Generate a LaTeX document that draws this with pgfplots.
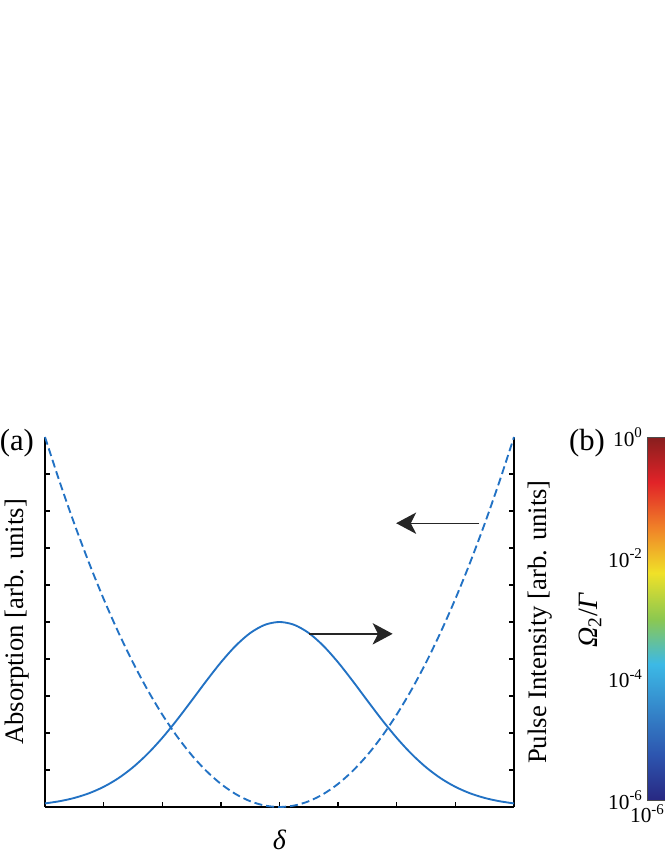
\documentclass[border=0pt]{standalone}
\usepackage{fontspec}
\setmainfont{Liberation Serif}
\usepackage{pgfplots}
\pgfplotsset{compat=1.18}
\usetikzlibrary{arrows.meta}
\definecolor{curve}{RGB}{34,114,196}
\pgfplotsset{colormap={mutedjet}{rgb255(0cm)=(40,40,130); rgb255(1cm)=(45,85,175); rgb255(3cm)=(60,185,230); rgb255(4cm)=(140,200,80); rgb255(5cm)=(240,225,40); rgb255(6cm)=(240,130,40); rgb255(7cm)=(225,35,40); rgb255(8cm)=(135,30,30)}}
\begin{document}
\begin{tikzpicture}
\useasboundingbox (0,0) rectangle (498pt,645pt);
% ---------------- panel (a) ----------------
\begin{axis}[
 at={(33.75pt,39.75pt)}, anchor=south west,
 scale only axis, width=351.75pt, height=277.5pt,
 xmin=-4, xmax=4, ymin=0, ymax=1,
 axis x line*=bottom, axis y line*=box,
 xtick={-3,-2,-1,0,1,2,3},
 ytick={0.1,0.2,0.3,0.4,0.5,0.6,0.7,0.8,0.9},
 xticklabels={}, yticklabels={},
 tick align=inside, major tick length=4pt,
 every tick/.style={black, line width=1.1pt},
 axis line style={black, line width=1.3pt},
 clip=false,
 xlabel={\textit{δ}},
 every axis x label/.style={at={(axis description cs:0.5,-0.089)}, anchor=center, font=\fontsize{21}{25}\selectfont},
]
\addplot[curve, line width=1.4pt, smooth] coordinates {
(-4,0.00971) (-3.75,0.01565) (-3.5,0.02447) (-3.25,0.03708) (-3,0.05449)
(-2.75,0.07763) (-2.5,0.10726) (-2.25,0.14370) (-2,0.18667) (-1.75,0.23517)
(-1.5,0.28726) (-1.25,0.34029) (-1,0.39083) (-0.75,0.43531) (-0.5,0.47014)
(-0.25,0.49236) (0,0.5) (0.25,0.49236) (0.5,0.47014) (0.75,0.43531)
(1,0.39083) (1.25,0.34029) (1.5,0.28726) (1.75,0.23517) (2,0.18667)
(2.25,0.14370) (2.5,0.10726) (2.75,0.07763) (3,0.05449) (3.25,0.03708)
(3.5,0.02447) (3.75,0.01565) (4,0.00971)};
\addplot[curve, line width=1.4pt, dash pattern=on 6pt off 3pt, smooth] coordinates {
(-4,1) (-3.75,0.8789) (-3.5,0.7656) (-3.25,0.6602) (-3,0.5625)
(-2.75,0.4727) (-2.5,0.3906) (-2.25,0.3164) (-2,0.25) (-1.75,0.1914)
(-1.5,0.1406) (-1.25,0.0977) (-1,0.0625) (-0.75,0.0352) (-0.5,0.0156)
(-0.25,0.0039) (0,0) (0.25,0.0039) (0.5,0.0156) (0.75,0.0352)
(1,0.0625) (1.25,0.0977) (1.5,0.1406) (1.75,0.1914) (2,0.25)
(2.25,0.3164) (2.5,0.3906) (2.75,0.4727) (3,0.5625) (3.25,0.6602)
(3.5,0.7656) (3.75,0.8789) (4,1)};
\draw[black!85, line width=1pt, -{Stealth[length=15pt,width=16pt,inset=4pt]}] (axis cs:0.51,0.468) -- (axis cs:1.93,0.468);
\draw[black!85, line width=1pt, -{Stealth[length=15pt,width=16pt,inset=4pt]}] (axis cs:3.41,0.767) -- (axis cs:1.99,0.767);
\node[font=\fontsize{20}{24}\selectfont, rotate=90] at (axis description cs:-0.0597,0.5) {Absorption [arb. units]};
\node[font=\fontsize{20}{24}\selectfont, rotate=90] at (axis description cs:1.055,0.5) {Pulse Intensity [arb. units]};
\node[font=\fontsize{23}{27}\selectfont] at (axis description cs:-0.06,0.984) {(a)};
\end{axis}
% ---------------- panel (b) ----------------
\begin{axis}[
 at={(485.5pt,45pt)}, anchor=south west,
 scale only axis, width=300pt, height=272.25pt,
 view={0}{90},
 xmode=log, ymode=log, xmin=1e-6, xmax=1, ymin=1e-6, ymax=1,
 colormap name=mutedjet,
 xtick={1e-6}, xticklabels={10\textsuperscript{-6}},
 ytick={1e-6,1e-4,1e-2,1},
 yticklabels={10\textsuperscript{-6},10\textsuperscript{-4},10\textsuperscript{-2},10\textsuperscript{0}},
 ztick=\empty,
 major tick length=0pt,
 tick label style={font=\fontsize{16}{19}\selectfont},
 axis line style={black!70, line width=0.6pt},
]
\addplot3[surf, shader=interp, mesh/cols=2] coordinates {
(1e-6,1e-6,-6) (1,1e-6,-6)
(1e-6,1.778e-6,-5.75) (1,1.778e-6,-5.75)
(1e-6,3.162e-6,-5.5) (1,3.162e-6,-5.5)
(1e-6,5.623e-6,-5.25) (1,5.623e-6,-5.25)
(1e-6,1e-5,-5) (1,1e-5,-5)
(1e-6,1.778e-5,-4.75) (1,1.778e-5,-4.75)
(1e-6,3.162e-5,-4.5) (1,3.162e-5,-4.5)
(1e-6,5.623e-5,-4.25) (1,5.623e-5,-4.25)
(1e-6,1e-4,-4) (1,1e-4,-4)
(1e-6,1.778e-4,-3.75) (1,1.778e-4,-3.75)
(1e-6,3.162e-4,-3.5) (1,3.162e-4,-3.5)
(1e-6,5.623e-4,-3.25) (1,5.623e-4,-3.25)
(1e-6,1e-3,-3) (1,1e-3,-3)
(1e-6,1.778e-3,-2.75) (1,1.778e-3,-2.75)
(1e-6,3.162e-3,-2.5) (1,3.162e-3,-2.5)
(1e-6,5.623e-3,-2.25) (1,5.623e-3,-2.25)
(1e-6,1e-2,-2) (1,1e-2,-2)
(1e-6,1.778e-2,-1.75) (1,1.778e-2,-1.75)
(1e-6,3.162e-2,-1.5) (1,3.162e-2,-1.5)
(1e-6,5.623e-2,-1.25) (1,5.623e-2,-1.25)
(1e-6,0.1,-1) (1,0.1,-1)
(1e-6,0.1778,-0.75) (1,0.1778,-0.75)
(1e-6,0.3162,-0.5) (1,0.3162,-0.5)
(1e-6,0.5623,-0.25) (1,0.5623,-0.25)
(1e-6,1,0) (1,1,0)};
\end{axis}
\node[font=\fontsize{23}{27}\selectfont] at (440.25pt,312.75pt) {(b)};
\node[font=\fontsize{21}{25}\selectfont, rotate=90] at (442.5pt,180pt) {\textit{Ω}\textsubscript{2}/\textit{Γ}};
\end{tikzpicture}
\end{document}
